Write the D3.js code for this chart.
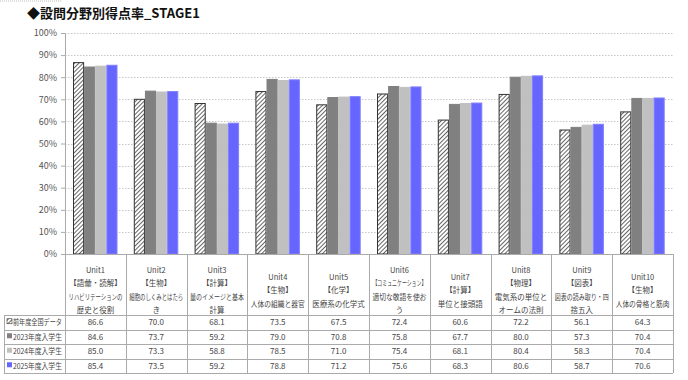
<!DOCTYPE html>
<html>
<head>
<meta charset="utf-8">
<script src="https://cdn.jsdelivr.net/npm/d3@7"></script>
<style>
  body { margin: 0; background: #fff; }
  svg { display: block; font-family: "Noto Sans CJK JP", "Noto Sans", sans-serif; }
</style>
</head>
<body>
<svg width="688" height="380"></svg>
<script>
// data
const units = ["Unit1", "Unit2", "Unit3", "Unit4", "Unit5", "Unit6", "Unit7", "Unit8", "Unit9", "Unit10"];
const unitLabels = [
  ["Unit1", "【語彙・読解】", "リハビリテーションの", "歴史と役割"],
  ["Unit2", "【生物】", "細胞のしくみとはたら", "き"],
  ["Unit3", "【計算】", "量のイメージと基本", "計算"],
  ["Unit4", "【生物】", "人体の組織と器官"],
  ["Unit5", "【化学】", "医療系の化学式"],
  ["Unit6", "【コミュニケーション】", "適切な敬語を使お", "う"],
  ["Unit7", "【計算】", "単位と接頭語"],
  ["Unit8", "【物理】", "電気系の単位と", "オームの法則"],
  ["Unit9", "【図表】", "図表の読み取り・四", "捨五入"],
  ["Unit10", "【生物】", "人体の骨格と筋肉"]
];
const seriesNames = ["前年度全国データ", "2023年度入学生", "2024年度入学生", "2025年度入学生"];
const national = [86.6, 70.0, 68.1, 73.5, 67.5, 72.4, 60.6, 72.2, 56.1, 64.3];
const y2023 = [84.6, 73.7, 59.2, 79.0, 70.8, 75.8, 67.7, 80.0, 57.3, 70.4];
const y2024 = [85.0, 73.3, 58.8, 78.5, 71.0, 75.4, 68.1, 80.4, 58.3, 70.4];
const y2025 = [85.4, 73.5, 59.2, 78.8, 71.2, 75.6, 68.3, 80.6, 58.7, 70.6];
const yTicks = [0, 10, 20, 30, 40, 50, 60, 70, 80, 90, 100];

const seriesValues = [national, y2023, y2024, y2025];
const fills = ["url(#hatch)", "#808080", "#c0c0c0", "#6666ff"];
const strokes = ["#333", "#808080", "#c0c0c0", "#8080ff"];

const svg = d3.select("svg");
const plotLeft = 65, plotRight = 673, plotTop = 33, base = 254;

const defs = svg.append("defs");
const pat = defs.append("pattern")
  .attr("id", "hatch")
  .attr("patternUnits", "userSpaceOnUse")
  .attr("width", 3).attr("height", 3)
  .attr("patternTransform", "rotate(45)");
pat.append("rect").attr("width", 3).attr("height", 3).attr("fill", "#fff");
pat.append("line").attr("x1", 0).attr("y1", 0).attr("x2", 0).attr("y2", 3)
  .attr("stroke", "#222").attr("stroke-width", 1.4);

// narrow a text (placed at 0,0 with anchor) into maxW by a horizontal scale
function fit(sel, maxW, px, py) {
  sel.each(function(d) {
    const w = this.getComputedTextLength();
    const k = w > maxW ? maxW / w : 1;
    d3.select(this).attr("transform", `translate(${px(d)},${py(d)}) scale(${k},1)`);
  });
}

// title
svg.append("text")
  .attr("x", 27).attr("y", 18)
  .attr("font-size", 13).attr("font-weight", "bold").attr("fill", "#111")
  .text("◆設問分野別得点率_STAGE1");

svg.append("line")
  .attr("x1", 0).attr("x2", 62).attr("y1", 1).attr("y2", 1)
  .attr("stroke", "#bbb").attr("stroke-dasharray", "1,1");

const x = d3.scaleBand().domain(units).range([plotLeft, plotRight]);
const xs = d3.scaleBand().domain(d3.range(4)).range([8, 52.5]);
const y = d3.scaleLinear().domain([0, 100]).range([base, plotTop]);

// grid
svg.append("g").selectAll("line")
  .data(yTicks.filter(t => t > 0))
  .join("line")
  .attr("x1", plotLeft).attr("x2", plotRight)
  .attr("y1", d => Math.round(y(d)) + 0.5).attr("y2", d => Math.round(y(d)) + 0.5)
  .attr("stroke", "#c8c8c8").attr("stroke-dasharray", "1.5,1.5");

// y axis
const yAxis = svg.append("g")
  .attr("transform", `translate(${plotLeft},0)`)
  .call(d3.axisLeft(y).tickValues(yTicks).tickSize(4).tickPadding(4).tickFormat(d => d + "%"));
yAxis.select(".domain").attr("stroke", "#aaa");
yAxis.selectAll(".tick line").attr("stroke", "#aaa");
yAxis.selectAll(".tick text")
  .attr("font-size", 9).attr("fill", "#555")
  .attr("font-family", "Noto Sans CJK JP, sans-serif");

// bars
const groups = svg.append("g").selectAll("g")
  .data(units)
  .join("g")
  .attr("transform", d => `translate(${x(d)},0)`);

groups.selectAll("rect")
  .data((u, i) => seriesValues.map((s, k) => ({ k, v: s[i] })))
  .join("rect")
  .attr("x", d => xs(d.k) + 0.5)
  .attr("width", xs.bandwidth() - 1)
  .attr("y", d => y(d.v))
  .attr("height", d => base - y(d.v))
  .attr("fill", d => fills[d.k])
  .attr("stroke", d => strokes[d.k])
  .attr("stroke-width", 1);

// baseline
svg.append("line")
  .attr("x1", plotLeft).attr("x2", plotRight).attr("y1", base + 0.5).attr("y2", base + 0.5)
  .attr("stroke", "#aaa");

// data table
const headBottom = 315;
const rowH = 14.5;
const labelLeft = 4;
const tableBottom = headBottom + rowH * 4;
const tg = svg.append("g");

tg.selectAll("line.v")
  .data(units.map(u => x(u)).concat([plotRight]))
  .join("line")
  .attr("x1", d => Math.round(d) + 0.5).attr("x2", d => Math.round(d) + 0.5)
  .attr("y1", base).attr("y2", tableBottom)
  .attr("stroke", "#aaa");

tg.append("line")
  .attr("x1", labelLeft + 0.5).attr("x2", labelLeft + 0.5)
  .attr("y1", headBottom).attr("y2", tableBottom)
  .attr("stroke", "#aaa");

tg.selectAll("line.h")
  .data(d3.range(5))
  .join("line")
  .attr("x1", labelLeft).attr("x2", plotRight)
  .attr("y1", i => Math.round(headBottom + i * rowH) + 0.5)
  .attr("y2", i => Math.round(headBottom + i * rowH) + 0.5)
  .attr("stroke", "#aaa");

// category labels, one text per line
const lineH = 13.5;
const catLines = [];
unitLabels.forEach((lines, i) => {
  const y0 = 290 - (lines.length - 1) * lineH / 2;
  lines.forEach((t, j) => catLines.push({ u: units[i], t, yy: y0 + j * lineH + 3 }));
});
tg.selectAll("text.cat")
  .data(catLines)
  .join("text")
  .attr("class", "cat")
  .attr("font-size", 7.5).attr("fill", "#444")
  .attr("text-anchor", "middle")
  .text(d => d.t)
  .call(fit, 54, d => x(d.u) + x.bandwidth() / 2, d => d.yy);

// rows
seriesNames.forEach((name, k) => {
  const cy = headBottom + k * rowH + rowH / 2;
  tg.append("rect")
    .attr("x", 7).attr("y", cy - 3.5).attr("width", 5).attr("height", 5)
    .attr("fill", fills[k]).attr("stroke", k === 0 ? "#333" : "none").attr("stroke-width", 0.6);
  tg.append("text")
    .datum(name)
    .attr("font-size", 7.5).attr("fill", "#444")
    .text(name)
    .call(fit, 49, () => 13, () => cy + 3);
  tg.selectAll(null)
    .data(seriesValues[k])
    .join("text")
    .attr("x", (d, i) => x(units[i]) + x.bandwidth() / 2)
    .attr("y", cy + 3)
    .attr("text-anchor", "middle")
    .attr("font-size", 8).attr("fill", "#444")
    .text(d => d.toFixed(1));
});
</script>
</body>
</html>
